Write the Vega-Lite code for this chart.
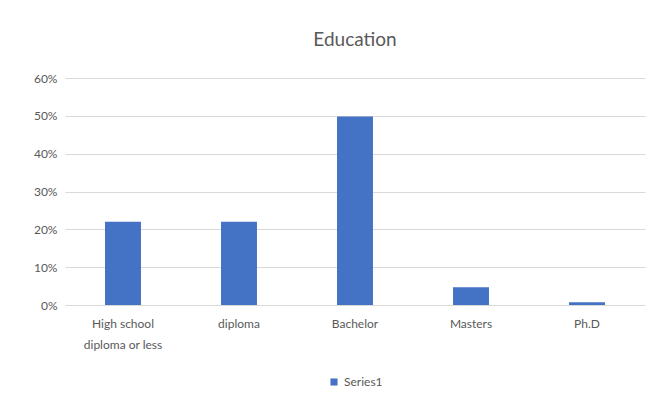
{
  "$schema": "https://vega.github.io/schema/vega-lite/v6.json",
  "width": 580,
  "height": 227,
  "autosize": {"type": "none"},
  "padding": {"left": 65, "top": 78, "right": 11, "bottom": 103},
  "background": "white",
  "title": {
    "text": "Education",
    "font": "Lato",
    "fontSize": 19,
    "fontWeight": "normal",
    "color": "#595959",
    "anchor": "middle",
    "offset": 22
  },
  "data": {
    "values": [
      {"level": "High school diploma or less", "share": 0.22, "series": "Series1"},
      {"level": "diploma", "share": 0.22, "series": "Series1"},
      {"level": "Bachelor", "share": 0.498, "series": "Series1"},
      {"level": "Masters", "share": 0.047, "series": "Series1"},
      {"level": "Ph.D", "share": 0.007, "series": "Series1"}
    ]
  },
  "mark": {"type": "bar"},
  "encoding": {
    "x": {
      "field": "level",
      "type": "nominal",
      "sort": null,
      "scale": {"paddingInner": 0.69, "paddingOuter": 0.345},
      "axis": {
        "title": null,
        "labelAngle": 0,
        "labelFont": "Lato",
        "labelFontSize": 12,
        "labelColor": "#595959",
        "labelPadding": 13,
        "labelLineHeight": 21,
        "ticks": false,
        "domain": false,
        "labelExpr": "datum.label == 'High school diploma or less' ? ['High school', 'diploma  or less'] : datum.label"
      }
    },
    "y": {
      "field": "share",
      "type": "quantitative",
      "scale": {"domain": [0, 0.6]},
      "axis": {
        "title": null,
        "format": ".0%",
        "values": [0, 0.1, 0.2, 0.3, 0.4, 0.5, 0.6],
        "labelFont": "Lato",
        "labelFontSize": 12,
        "labelColor": "#595959",
        "labelPadding": 8,
        "ticks": false,
        "domain": false,
        "gridColor": "#d9d9d9",
        "gridWidth": 1
      }
    },
    "color": {
      "field": "series",
      "type": "nominal",
      "scale": {"range": ["#4472C4"]},
      "legend": {
        "title": null,
        "orient": "bottom",
        "direction": "horizontal",
        "symbolType": "square",
        "symbolSize": 50,
        "labelFont": "Lato",
        "labelFontSize": 12,
        "labelColor": "#595959",
        "offset": 26
      }
    }
  },
  "config": {
    "view": {"stroke": null},
    "legend": {"layout": {"bottom": {"anchor": "middle"}}}
  }
}
